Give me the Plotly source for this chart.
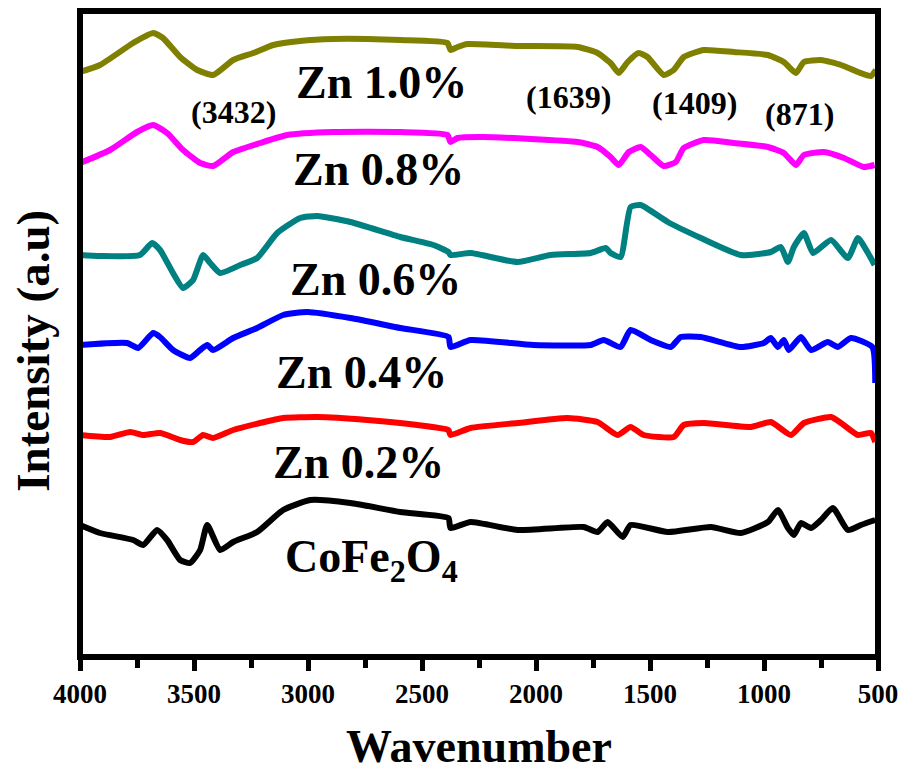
import plotly.graph_objects as go

# Wavenumber (cm-1) and intensity (a.u.)
zn10_x = [4000, 3912, 3767, 3679, 3636, 3561, 3486, 3416, 3328, 3240, 3152, 3034, 2889, 2740, 2595, 2388, 2375, 2344, 2300, 2081, 1817, 1730, 1673, 1637, 1598, 1550, 1511, 1440, 1396, 1352, 1264, 1132, 983, 913, 860, 825, 750, 662, 588, 531, 509]
zn10_y = [585, 592, 614, 624, 619, 600, 587, 582, 597, 604, 612, 616, 618, 618, 617, 614, 607, 610, 613, 611, 610, 604, 594, 584, 595, 604, 600, 582, 587, 600, 607, 605, 602, 595, 584, 595, 597, 592, 585, 581, 587]

zn08_x = [4000, 3868, 3750, 3679, 3618, 3548, 3473, 3416, 3328, 3210, 3091, 2889, 2595, 2388, 2375, 2344, 2230, 1817, 1730, 1673, 1637, 1593, 1541, 1497, 1440, 1387, 1352, 1264, 1132, 983, 913, 860, 825, 737, 649, 562, 515]
zn08_y = [494, 507, 525, 532, 524, 507, 494, 491, 505, 514, 522, 525, 525, 522, 515, 519, 520, 515, 510, 500, 492, 505, 510, 502, 491, 495, 509, 517, 514, 510, 504, 492, 502, 505, 499, 490, 492]

zn06_x = [4000, 3912, 3737, 3684, 3649, 3592, 3548, 3504, 3460, 3429, 3385, 3297, 3223, 3135, 3034, 2959, 2814, 2595, 2450, 2384, 2375, 2287, 2081, 1936, 1760, 1694, 1673, 1629, 1585, 1541, 1422, 1277, 1102, 970, 926, 895, 869, 825, 785, 706, 632, 588, 544, 515]
zn06_y = [402, 401, 402, 414, 407, 384, 369, 377, 402, 394, 384, 392, 399, 424, 439, 441, 435, 420, 412, 405, 402, 404, 395, 402, 404, 409, 404, 400, 450, 452, 435, 419, 402, 405, 410, 395, 410, 424, 404, 417, 399, 419, 404, 392]

zn04_x = [4000, 3794, 3745, 3679, 3649, 3592, 3517, 3473, 3442, 3416, 3328, 3223, 3109, 3003, 2814, 2595, 2384, 2375, 2287, 2011, 1760, 1703, 1629, 1585, 1497, 1409, 1365, 1277, 1102, 1001, 970, 939, 913, 891, 838, 794, 720, 676, 619, 525, 512]
zn04_y = [312, 314, 309, 324, 320, 307, 299, 307, 312, 307, 319, 329, 342, 345, 339, 329, 320, 310, 317, 312, 312, 317, 310, 327, 317, 310, 320, 320, 310, 314, 319, 310, 317, 307, 320, 307, 315, 310, 319, 310, 274]

zn02_x = [4000, 3868, 3780, 3723, 3649, 3561, 3504, 3460, 3416, 3328, 3210, 3109, 2959, 2740, 2520, 2384, 2375, 2287, 2081, 1861, 1730, 1642, 1585, 1528, 1396, 1352, 1264, 1058, 970, 882, 825, 706, 662, 588, 531, 512]
zn02_y = [222, 220, 225, 222, 224, 217, 215, 222, 219, 227, 234, 239, 240, 237, 232, 227, 222, 229, 234, 239, 235, 222, 230, 222, 220, 232, 234, 230, 235, 222, 234, 240, 234, 222, 224, 215]

cofe_x = [4000, 3912, 3767, 3723, 3662, 3618, 3561, 3517, 3473, 3442, 3385, 3328, 3223, 3109, 2990, 2814, 2595, 2384, 2375, 2287, 2081, 1791, 1730, 1686, 1620, 1585, 1422, 1233, 1102, 983, 939, 895, 869, 838, 794, 750, 698, 632, 575, 512]
cofe_y = [132, 124, 117, 112, 127, 117, 97, 94, 107, 132, 107, 115, 125, 147, 157, 154, 145, 139, 129, 135, 127, 130, 125, 135, 120, 132, 125, 130, 124, 135, 147, 129, 122, 134, 129, 137, 149, 127, 132, 137]

series = [
    ("Zn 1.0%", zn10_x, zn10_y, "#808000"),
    ("Zn 0.8%", zn08_x, zn08_y, "#FF00FF"),
    ("Zn 0.6%", zn06_x, zn06_y, "#008080"),
    ("Zn 0.4%", zn04_x, zn04_y, "#0000FF"),
    ("Zn 0.2%", zn02_x, zn02_y, "#FF0000"),
    ("CoFe2O4", cofe_x, cofe_y, "#000000"),
]

tick_vals = [4000, 3500, 3000, 2500, 2000, 1500, 1000, 500]
tick_text = ["4000", "3500", "3000", "2500", "2000", "1500", "1000", "500"]

labels = [
    ("Zn 1.0%", 2678, 575, 46),
    ("Zn 0.8%", 2691, 488, 46),
    ("Zn 0.6%", 2705, 378, 46),
    ("Zn 0.4%", 2766, 285, 46),
    ("Zn 0.2%", 2779, 195, 46),
    ("CoFe<sub>2</sub>O<sub>4</sub>", 2720, 97, 46),
    ("(3432)", 3328, 545, 32),
    ("(1639)", 1857, 560, 32),
    ("(1409)", 1304, 554, 32),
    ("(871)", 843, 543, 32),
]

FONT = "Liberation Serif"

fig = go.Figure()
for name, xs, ys, color in series:
    fig.add_trace(go.Scatter(x=xs, y=ys, mode="lines", name=name,
                             line=dict(color=color, width=6, shape="spline", smoothing=0.5),
                             showlegend=False, hoverinfo="skip"))

for text, x, y, size in labels:
    fig.add_annotation(x=x, y=y, xref="x", yref="y", text=text, showarrow=False,
                       font=dict(family=FONT, size=size, color="black", weight="bold"))

# y-axis title, placed as a rotated annotation
fig.add_annotation(x=0, y=0.474, xref="paper", yref="paper", text="Intensity (a.u)",
                   textangle=-90, showarrow=False, xanchor="center", yanchor="middle", xshift=-47,
                   font=dict(family=FONT, size=47, color="black", weight="bold"))

# frame around the plot area, centred on its edges
fig.add_shape(type="rect", xref="paper", yref="paper", x0=0, x1=1, y0=0, y1=1,
              line=dict(color="black", width=6), layer="above")

fig.update_layout(
    width=902, height=772,
    margin=dict(l=80, r=24, t=11, b=115),
    paper_bgcolor="white", plot_bgcolor="white",
    font=dict(family=FONT, color="black", weight="bold"),
    hovermode=False,
)
fig.update_xaxes(
    range=[4000, 500], tickvals=tick_vals, ticktext=tick_text, automargin=False,
    ticks="outside", ticklen=13, tickwidth=5, tickcolor="black",
    minor=dict(ticks="outside", ticklen=10, tickwidth=5, tickcolor="black", dtick=250, showgrid=False),
    showline=False, showgrid=False, zeroline=False,
    tickfont=dict(family=FONT, size=27, color="black", weight="bold"),
    title=dict(text="Wavenumber", font=dict(family=FONT, size=46, color="black", weight="bold"), standoff=26),
)
fig.update_yaxes(
    range=[0, 646], showticklabels=False, ticks="", automargin=False,
    showline=False, showgrid=False, zeroline=False,
)

# remove the default page margin so the figure sits at the window's top-left corner
fig.write_html("out.html", config={"displayModeBar": False},
               post_script="document.body.style.margin='0';document.body.style.overflow='hidden';")
